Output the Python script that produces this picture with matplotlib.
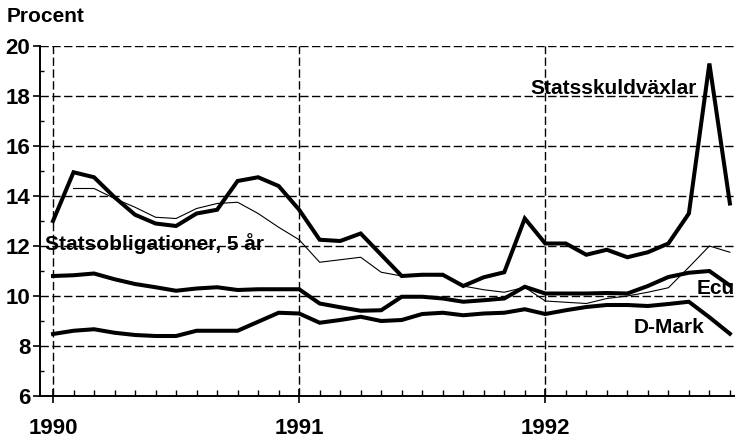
import numpy as np
import matplotlib
matplotlib.use("Agg")
import matplotlib.pyplot as plt
from matplotlib.ticker import MultipleLocator, FixedLocator

plt.rcParams['font.family'] = ['Liberation Sans', 'DejaVu Sans']
S_TICK, S_LAB = 16.0, 15.0

# Monthly data, Jan 1990 (index 0) .. Oct 1992 (index 33)
months = np.arange(34)
year_labels = ["1990", "1991", "1992"]
year_positions = [0, 12, 24]

statsskuldvaxlar = [13.0, 14.95, 14.75, 13.95, 13.25, 12.9, 12.8, 13.3, 13.45, 14.6,
                    14.75, 14.4, 13.45, 12.25, 12.2, 12.5, 11.65, 10.8, 10.85, 10.85,
                    10.4, 10.75, 10.95, 13.1, 12.1, 12.1, 11.65, 11.85, 11.55, 11.75,
                    12.1, 13.3, 19.3, 13.7]
statsobligationer = [np.nan, 14.3, 14.3, 13.9, 13.55, 13.15, 13.1, 13.5, 13.7, 13.75,
                     13.3, 12.75, 12.25, 11.35, 11.45, 11.55, 10.95, 10.8, 10.85, 10.8,
                     10.4, 10.25, 10.15, 10.35, 9.8, 9.75, 9.7, 9.9, 10.0, 10.15,
                     10.33, 11.15, 12.0, 11.75]
ecu = [10.8, 10.83, 10.9, 10.67, 10.48, 10.35, 10.21, 10.3, 10.35, 10.24,
       10.27, 10.27, 10.27, 9.7, 9.55, 9.41, 9.43, 9.97, 9.97, 9.9,
       9.77, 9.83, 9.9, 10.37, 10.1, 10.1, 10.1, 10.12, 10.1, 10.4,
       10.76, 10.93, 11.0, 10.42]
dmark = [8.48, 8.61, 8.67, 8.53, 8.44, 8.4, 8.4, 8.61, 8.61, 8.61,
         8.97, 9.33, 9.3, 8.93, 9.04, 9.17, 9.0, 9.04, 9.28, 9.33,
         9.23, 9.3, 9.33, 9.47, 9.28, 9.43, 9.56, 9.64, 9.64, 9.6,
         9.68, 9.77, 9.15, 8.49]

fig = plt.figure(figsize=(7.36, 4.42), dpi=100)
ax = fig.add_axes([40/736, 1 - 396/442, 694/736, 350/442])

thick = 2.9
ax.plot(months, statsobligationer, color='black', lw=0.8, zorder=3)
ax.plot(months, statsskuldvaxlar, color='black', lw=thick, zorder=4,
        solid_joinstyle='miter')
ax.plot(months, ecu, color='black', lw=thick, zorder=4, solid_joinstyle='miter')
ax.plot(months, dmark, color='black', lw=thick, zorder=4, solid_joinstyle='miter')

ax.set_xlim(-0.634, 33.2)
ax.set_ylim(6, 20)

# grid
for v in range(8, 21, 2):
    ax.axhline(v, color='black', lw=1.0, dashes=(6, 2.5), zorder=1)
for p in year_positions:
    ax.axvline(p, color='black', lw=1.0, dashes=(6, 2.5), zorder=1)

ax.spines['top'].set_visible(False)
ax.spines['right'].set_visible(False)
ax.spines['left'].set_linewidth(1.4)
ax.spines['bottom'].set_linewidth(1.4)

ax.xaxis.set_major_locator(FixedLocator(year_positions))
ax.set_xticklabels(year_labels)
ax.xaxis.set_minor_locator(FixedLocator(months))
ax.yaxis.set_major_locator(MultipleLocator(2))
ax.yaxis.set_minor_locator(MultipleLocator(1))

ax.tick_params(axis='x', which='major', direction='inout', length=10, width=1.2,
               pad=11, labelsize=S_TICK)
ax.tick_params(axis='x', which='minor', direction='in', length=4, width=1.0)
ax.tick_params(axis='y', which='major', direction='out', length=5, width=1.2,
               pad=2, labelsize=S_TICK)
ax.tick_params(axis='y', which='minor', direction='in', length=3, width=1.0)
for lab in ax.get_xticklabels() + ax.get_yticklabels():
    lab.set_fontweight('bold')

tkw = dict(fontsize=S_LAB, fontweight='bold', color='black', zorder=5)
ax.text(31.37, 18.32, "Statsskuldväxlar", ha='right', va='center', **tkw)
ax.text(-0.39, 12.08, "Statsobligationer, 5 år", ha='left', va='center', **tkw)
ax.text(31.37, 10.32, "Ecu", ha='left', va='center', **tkw)
ax.text(28.3, 8.76, "D-Mark", ha='left', va='center', **tkw)

fig.text(7/736, 1 - 17/442, "Procent", ha='left', va='center',
         fontsize=S_LAB, fontweight='bold')

fig.savefig("out.png", dpi=100)
